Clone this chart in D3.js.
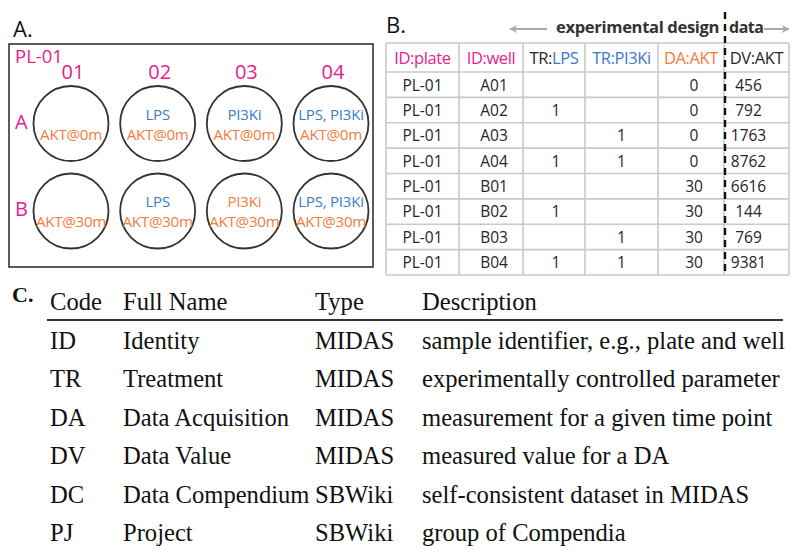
<!DOCTYPE html>
<html><head><meta charset="utf-8">
<script src="https://cdn.jsdelivr.net/npm/d3@7"></script>
<style>
html,body{margin:0;padding:0;background:#fff;}
svg{display:block;}
</style></head>
<body>
<svg id="chart" width="800" height="555"></svg>
<script>
// ---------- DATA ----------
const plateRows = ["A", "B"];
const plateCols = ["01", "02", "03", "04"];
const plateName = "PL-01";

const tableHeaders = ["ID:plate", "ID:well", "TR:LPS", "TR:PI3Ki", "DA:AKT", "DV:AKT"];
const plates = ["PL-01","PL-01","PL-01","PL-01","PL-01","PL-01","PL-01","PL-01"];
const wells = ["A01","A02","A03","A04","B01","B02","B03","B04"];
const trLPS = [null, 1, null, 1, null, 1, null, 1];
const trPI3Ki = [null, null, 1, 1, null, null, 1, 1];
const daAKT = [0, 0, 0, 0, 30, 30, 30, 30];
const dvAKT = [456, 792, 1763, 8762, 6616, 144, 769, 9381];

const codes = ["ID", "TR", "DA", "DV", "DC", "PJ"];
const fullNames = ["Identity", "Treatment", "Data Acquisition", "Data Value", "Data Compendium", "Project"];
const types = ["MIDAS", "MIDAS", "MIDAS", "MIDAS", "SBWiki", "SBWiki"];
const descriptions = [
  "sample identifier, e.g., plate and well",
  "experimentally controlled parameter",
  "measurement for a given time point",
  "measured value for a DA",
  "self-consistent dataset in MIDAS",
  "group of Compendia"
];
const cHeaders = ["Code", "Full Name", "Type", "Description"];

// ---------- STYLE ----------
const MAG = "#e6208f", BLUE = "#3a7bc8", ORANGE = "#f47c3c", DARK = "#262626";
const SANS = "'Open Sans', 'Noto Sans', sans-serif";
const SERIF = "'Liberation Serif', 'Times New Roman', serif";

const svg = d3.select("#chart");

// ================= PANEL A =================
const gA = svg.append("g");
gA.append("text").attr("x", 13).attr("y", 37).text("A.")
  .attr("font-family", SANS).attr("font-size", 22).attr("fill", "#111");
gA.append("rect").attr("x", 9).attr("y", 44).attr("width", 364).attr("height", 223)
  .attr("fill", "none").attr("stroke", "#333").attr("stroke-width", 1.6);
gA.append("text").attr("x", 15).attr("y", 63).text(plateName)
  .attr("font-family", SANS).attr("font-size", 18.5).attr("fill", MAG);

const xWell = d3.scalePoint().domain(plateCols).range([71, 331]);
const yWell = d3.scalePoint().domain(plateRows).range([123.5, 211]);
const rWell = 37.5;

gA.selectAll("text.colLab").data(plateCols).join("text").attr("class", "colLab")
  .attr("x", d => xWell(d) + 2).attr("y", 79).attr("text-anchor", "middle")
  .attr("font-family", SANS).attr("font-size", 20).attr("fill", MAG).text(d => d);
gA.selectAll("text.rowLab").data(plateRows).join("text").attr("class", "rowLab")
  .attr("x", 15).attr("y", d => yWell(d) + 5)
  .attr("font-family", SANS).attr("font-size", 20).attr("fill", MAG).text(d => d);

const wellData = wells.map((w, i) => {
  const tr = [];
  if (trLPS[i]) tr.push("LPS");
  if (trPI3Ki[i]) tr.push("PI3Ki");
  return { row: w[0], col: w.slice(1), tr: tr.join(", "), time: "AKT@" + daAKT[i] + "m",
           trColor: (w === "B03") ? ORANGE : BLUE };
});
const wg = gA.selectAll("g.well").data(wellData).join("g").attr("class", "well")
  .attr("transform", d => `translate(${xWell(d.col)},${yWell(d.row)})`);
wg.append("circle").attr("r", rWell).attr("fill", "none").attr("stroke", "#333").attr("stroke-width", 1.8);
wg.append("text").attr("y", -4).attr("text-anchor", "middle").attr("font-family", SANS)
  .attr("font-size", 15).attr("letter-spacing", -0.2).attr("fill", d => d.trColor).text(d => d.tr);
wg.append("text").attr("y", 16).attr("text-anchor", "middle").attr("font-family", SANS)
  .attr("font-size", 15.2).attr("letter-spacing", -0.3).attr("fill", ORANGE).text(d => d.time);

// ================= PANEL B =================
const gB = svg.append("g");
gB.append("text").attr("x", 386).attr("y", 33).text("B.")
  .attr("font-family", SANS).attr("font-size", 22).attr("fill", "#111");

const colWidths = [73, 64, 62, 73, 66, 65];
const colEdges = colWidths.reduce((a, w) => (a.push(a[a.length - 1] + w), a), [386]);
const tableTop = 43, headH = 29;
const yRow = d3.scaleBand().domain(wells).range([tableTop + headH, 275]);
const tableBottom = 275;

// grid
const grid = gB.append("g").attr("stroke", "#c9c9c9").attr("stroke-width", 1.6);
grid.selectAll("line.v").data(colEdges).join("line").attr("class", "v")
  .attr("x1", d => d).attr("x2", d => d).attr("y1", tableTop).attr("y2", tableBottom);
const hLines = [tableTop, tableTop + headH].concat(wells.map(w => yRow(w) + yRow.bandwidth()));
grid.selectAll("line.h").data(hLines).join("line").attr("class", "h")
  .attr("x1", colEdges[0]).attr("x2", colEdges[colEdges.length - 1]).attr("y1", d => d).attr("y2", d => d);

const colCenter = i => (colEdges[i] + colEdges[i + 1]) / 2;
// header
const headerColors = [[MAG], [MAG], [DARK, BLUE], [BLUE, BLUE], [ORANGE, ORANGE], [DARK, DARK]];
tableHeaders.forEach((h, i) => {
  const t = gB.append("text").attr("x", colCenter(i)).attr("y", tableTop + 21)
    .attr("text-anchor", "middle").attr("font-family", SANS).attr("font-size", 16.5)
    .attr("letter-spacing", -0.4);
  const parts = h.startsWith("ID") ? [h] : [h.slice(0, 3), h.slice(3)];
  parts.forEach((p, k) => t.append("tspan").attr("fill", headerColors[i][k]).text(p));
});

// body
const rows = wells.map((w, i) => [plates[i], w, trLPS[i], trPI3Ki[i], daAKT[i], dvAKT[i]]);
const offs = [0, 3, 2, 0, 3, -8];
rows.forEach((r, ri) => {
  r.forEach((v, ci) => {
    if (v === null) return;
    gB.append("text").attr("x", colCenter(ci) + offs[ci]).attr("y", yRow(wells[ri]) + 18.5)
      .attr("text-anchor", "middle").attr("font-family", SANS).attr("font-size", 15.5)
      .attr("fill", DARK).text(v);
  });
});

// arrows and labels
const defs = svg.append("defs");
defs.append("marker").attr("id", "ah").attr("viewBox", "0 0 10 10").attr("refX", 9).attr("refY", 5)
  .attr("markerWidth", 5).attr("markerHeight", 4).attr("orient", "auto-start-reverse")
  .attr("markerUnits", "strokeWidth")
  .append("path").attr("d", "M0,0 L10,5 L0,10 L3,5 Z").attr("fill", "#aaa");
gB.append("line").attr("x1", 547).attr("x2", 510).attr("y1", 29).attr("y2", 29)
  .attr("stroke", "#aaa").attr("stroke-width", 2).attr("marker-end", "url(#ah)");
gB.append("text").attr("x", 556).attr("y", 33).text("experimental design")
  .attr("font-family", SANS).attr("font-size", 16.6).attr("font-weight", 700)
  .attr("letter-spacing", -0.35).attr("fill", "#333");
gB.append("text").attr("x", 729).attr("y", 33).text("data")
  .attr("font-family", SANS).attr("font-size", 16).attr("font-weight", 700)
  .attr("letter-spacing", -0.5).attr("fill", "#333");
gB.append("line").attr("x1", 764).attr("x2", 789).attr("y1", 29).attr("y2", 29)
  .attr("stroke", "#aaa").attr("stroke-width", 2).attr("marker-end", "url(#ah)");
gB.append("line").attr("x1", 725).attr("x2", 725).attr("y1", 12).attr("y2", 276)
  .attr("stroke", "#111").attr("stroke-width", 2.4).attr("stroke-dasharray", "7,5");

// ================= PANEL C =================
const gC = svg.append("g");
gC.append("text").attr("x", 12).attr("y", 302).text("C.")
  .attr("font-family", SERIF).attr("font-size", 22).attr("font-weight", "bold").attr("fill", "#111");
const cColX = [50, 123, 315, 422];
const cRowY = d3.scalePoint().domain(codes).range([349, 541]);
const cFont = 24.6;
cHeaders.forEach((h, i) => gC.append("text").attr("x", cColX[i]).attr("y", 310)
  .attr("font-family", SERIF).attr("font-size", cFont).attr("fill", "#111").text(h));
gC.append("line").attr("x1", 47).attr("x2", 783).attr("y1", 320).attr("y2", 320)
  .attr("stroke", "#333").attr("stroke-width", 2);
const cCols = [codes, fullNames, types, descriptions];
cCols.forEach((arr, ci) => {
  gC.selectAll("text.c" + ci).data(arr).join("text").attr("class", "c" + ci)
    .attr("x", cColX[ci]).attr("y", (d, i) => cRowY(codes[i]))
    .attr("font-family", SERIF).attr("font-size", cFont).attr("fill", "#111").text(d => d);
});
</script>
</body></html>
